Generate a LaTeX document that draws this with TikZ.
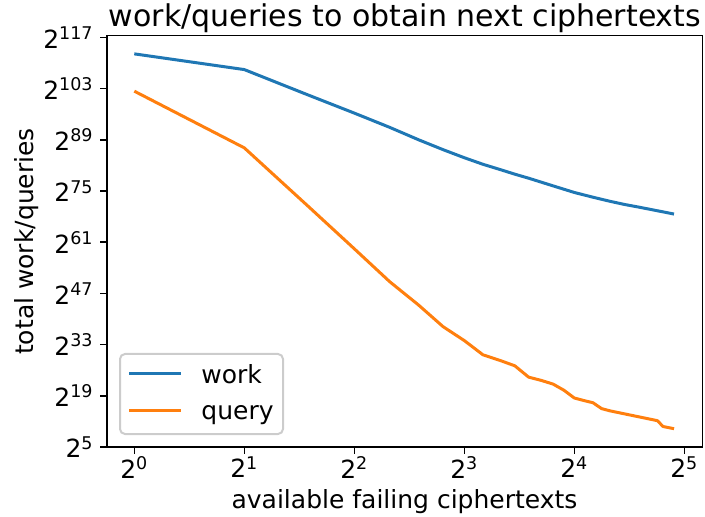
\documentclass[tikz,border=0pt]{standalone}
\usepackage{fontspec}
\setmainfont{DejaVu Sans}
\usetikzlibrary{positioning}
\definecolor{mplblue}{HTML}{1F77B4}
\definecolor{mplorange}{HTML}{FF7F0E}
\tikzset{
    frame/.style = {line width=0.8pt,draw=black},
    tickmark/.style = {line width=0.8pt,black},
    ticklbl/.style = {inner sep=0pt,font=\fontsize{12.5}{15}\selectfont},
    axlbl/.style = {inner sep=0pt,font=\fontsize{12.5}{15}\selectfont},
    titlelbl/.style = {inner sep=0pt,font=\fontsize{15}{18}\selectfont},
    workline/.style = {line width=1.5pt,mplblue,line join=round},
    queryline/.style = {line width=1.5pt,mplorange,line join=round},
    legbox/.style = {draw=black!20,line width=1pt,fill=white,fill opacity=0.8,rounded corners=2.5pt},
    legtxt/.style = {inner sep=0pt,anchor=base west,font=\fontsize{12.5}{15}\selectfont}
}
\newcommand{\pw}[1]{2\textsuperscript{#1}}

\begin{document}
\begin{tikzpicture}[x=0.5pt,y=-0.5pt]
\useasboundingbox (0,0) rectangle (705,517);
% data part: x = log2(n), y = exponent
\begin{scope}[shift={(67.15pt,-232.64pt)},x=55pt,y=1.8285pt]
\draw[frame] (-0.248,5) rectangle (5.167,117.47);
\foreach \i in {0,...,5} {
  \draw[tickmark] (\i,5) -- ++(0,-3.5pt);
  \node[ticklbl,anchor=north] at ([yshift=-4.5pt]\i,5) (xt\i) {\pw{\i}};
}
\foreach \e in {5,19,...,117} {
  \draw[tickmark] (-0.248,\e) -- ++(-3.5pt,0);
  \node[ticklbl,anchor=east] at ([xshift=-6.5pt]-0.248,\e) (yt\e) {\pw{\e}};
}
%
\draw[workline] (0,112.5) \foreach \n/\e in {2/108.2,3/101.2,4/96.3,5/92.4,6/89.0,7/86.3,8/84.1,9/82.3,10/80.9,11/79.6,12/78.5,14/76.4,16/74.6,18/73.3,20/72.2,22/71.3,24/70.6,27/69.6,30/68.7} { -- ({log2(\n)},\e) };
\draw[queryline] (0,102.3) \foreach \n/\e in {2/86.8,3/70.7,4/59.2,5/50.2,6/43.8,7/37.9,8/34.1,9/30.2,10/28.7,11/27.2,12/24.1,13/23.2,14/22.2,15/20.5,16/18.4,17/17.7,18/17.1,19/15.5,20/14.9,27/12.2,28/10.6,29/10.3,30/10.0} { -- ({log2(\n)},\e) };
\end{scope}
% labels
\node[titlelbl,anchor=base] at (405,26.7) (title) {work/queries to obtain next ciphertexts};
\node[axlbl,anchor=base] at (404.5,508) (xlab) {available failing ciphertexts};
\node[axlbl,anchor=base,rotate=90] at (33.3,241.5) (ylab) {total work/queries};
% legend
\draw[legbox] (120,354) rectangle (283,434);
\node[legtxt] at (201,383) (legw) {work};
\node[legtxt] at (201,419.7) (legq) {query};
\draw[workline] (129,373.7) -- (181,373.7);
\draw[queryline] (129,410.7) -- (181,410.7);
\end{tikzpicture}
\end{document}
